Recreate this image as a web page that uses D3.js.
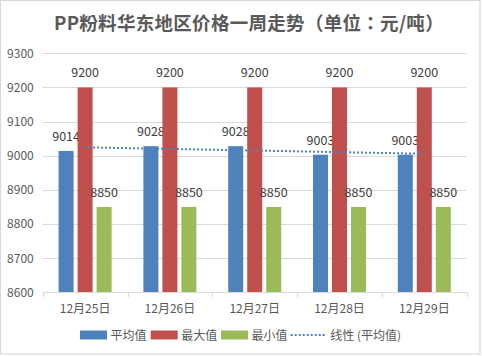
<!DOCTYPE html>
<html><head><meta charset="utf-8">
<script src="https://cdn.jsdelivr.net/npm/d3@7/dist/d3.min.js"></script>
<style>
html,body{margin:0;padding:0;background:#fff;}
text{font-family:"Microsoft YaHei","Noto Sans CJK SC",sans-serif;}
</style></head>
<body>
<svg id="chart" width="482" height="356"></svg>
<script>
const categories = ["12月25日","12月26日","12月27日","12月28日","12月29日"];
const avgValues = [9014, 9028, 9028, 9003, 9003];
const maxValues = [9200, 9200, 9200, 9200, 9200];
const minValues = [8850, 8850, 8850, 8850, 8850];
const yTicks = [8600, 8700, 8800, 8900, 9000, 9100, 9200, 9300];
const seriesNames = ["平均值", "最大值", "最小值"];
const trendName = "线性 (平均值)";
const title = "PP粉料华东地区价格一周走势（单位：元/吨）";

const colors = ["#4F81BD", "#C0504D", "#9BBB59"];
const textColor = "#595959";
const gridColor = "#D9D9D9";

const svg = d3.select("#chart");
const m = {left: 42.7, right: 466.7, top: 53.3, bottom: 292.3};

svg.append("rect").attr("x",0.5).attr("y",0.5).attr("width",479.5).attr("height",353.5)
  .attr("fill","#fff").attr("stroke",gridColor).attr("stroke-width",1.2);

svg.append("text").attr("x",54).attr("y",29.5).attr("text-anchor","start")
  .attr("font-size",18.5).attr("font-weight","bold").attr("fill",textColor)
  .attr("letter-spacing",0.3)
  .style("font-family",'"Noto Sans CJK TC","Noto Sans CJK SC",sans-serif')
  .text(title);

const x = d3.scaleBand().domain(categories).range([m.left, m.right]);
const y = d3.scaleLinear().domain([8600, 9300]).range([m.bottom, m.top]);

// gridlines
svg.append("g").selectAll("line").data(yTicks.filter(d => d !== 8600)).join("line")
  .attr("x1", m.left).attr("x2", m.right)
  .attr("y1", d => Math.round(y(d))+0.5).attr("y2", d => Math.round(y(d))+0.5)
  .attr("stroke", gridColor).attr("stroke-width",1);

// y axis labels
const yAxis = d3.axisLeft(y).tickValues(yTicks).tickFormat(d3.format("d")).tickSize(0).tickPadding(9);
const yg = svg.append("g").attr("transform",`translate(${m.left},0)`).call(yAxis);
yg.select(".domain").remove();
yg.selectAll("text").attr("font-size",12).attr("fill",textColor)
  .attr("font-family",'"Microsoft YaHei","Noto Sans CJK SC",sans-serif');

// bars
const series = [avgValues, maxValues, minValues];
const barW = 15, gap = 4;
const groupW = 3*barW + 2*gap;
series.forEach((vals, si) => {
  const g = svg.append("g");
  g.selectAll("rect").data(vals).join("rect")
    .attr("x", (d,i) => x(categories[i]) + x.bandwidth()/2 - groupW/2 + si*(barW+gap))
    .attr("y", d => y(d))
    .attr("width", barW)
    .attr("height", d => y(8600) - y(d))
    .attr("fill", colors[si]);
  g.selectAll("text").data(vals).join("text")
    .attr("x", (d,i) => x(categories[i]) + x.bandwidth()/2 - groupW/2 + si*(barW+gap) + barW/2)
    .attr("y", d => y(d) - 10)
    .attr("text-anchor","middle").attr("font-size",12.5).attr("fill","#404040")
    .text(d => d);
});

// x axis
const xAxis = d3.axisBottom(x).tickSize(0).tickPadding(12);
const xg = svg.append("g").attr("transform",`translate(0,${m.bottom})`).call(xAxis);
xg.select(".domain").remove();
xg.selectAll("text").attr("font-size",12).attr("fill",textColor)
  .attr("font-family",'"Microsoft YaHei","Noto Sans CJK SC",sans-serif');
svg.append("line").attr("x1",m.left).attr("x2",m.right)
  .attr("y1",Math.round(m.bottom)+0.5).attr("y2",Math.round(m.bottom)+0.5)
  .attr("stroke",gridColor).attr("stroke-width",1);
const tickXs = categories.map(c => x(c)).concat([m.right]);
svg.append("g").selectAll("line").data(tickXs).join("line")
  .attr("x1", d => Math.round(d)+0.5).attr("x2", d => Math.round(d)+0.5)
  .attr("y1", Math.round(m.bottom)).attr("y2", Math.round(m.bottom)+5)
  .attr("stroke", gridColor);

// linear trendline (least squares on average series)
const n = avgValues.length;
const xs = d3.range(1, n+1);
const mx = d3.mean(xs), my = d3.mean(avgValues);
const slope = d3.sum(xs.map((v,i)=>(v-mx)*(avgValues[i]-my))) / d3.sum(xs.map(v=>(v-mx)*(v-mx)));
const icpt = my - slope*mx;
const trend = xs.map(v => icpt + slope*v);
const line = d3.line().x((d,i) => x(categories[i]) + x.bandwidth()/2).y(d => y(d));
svg.append("path").attr("d", line(trend)).attr("fill","none")
  .attr("stroke", colors[0]).attr("stroke-width",2).attr("stroke-dasharray","2,2");

// legend
const ly = 335;
const legendItems = [
  {type:"rect", color: colors[0], label: seriesNames[0], x: 80},
  {type:"rect", color: colors[1], label: seriesNames[1], x: 150.7},
  {type:"rect", color: colors[2], label: seriesNames[2], x: 221},
  {type:"line", color: colors[0], label: trendName, x: 290.7}
];
legendItems.forEach(it => {
  if (it.type === "rect") {
    svg.append("rect").attr("x", it.x).attr("y", ly-4.5).attr("width", 27).attr("height", 9).attr("fill", it.color);
    svg.append("text").attr("x", it.x+30.5).attr("y", ly+4.5).attr("font-size",12).attr("fill",textColor).text(it.label);
  } else {
    svg.append("line").attr("x1", it.x).attr("x2", it.x+34).attr("y1", ly).attr("y2", ly)
      .attr("stroke", it.color).attr("stroke-width",2).attr("stroke-dasharray","2,2");
    svg.append("text").attr("x", it.x+39.5).attr("y", ly+4.5).attr("font-size",12).attr("fill",textColor).text(it.label);
  }
});
</script>
</body></html>
